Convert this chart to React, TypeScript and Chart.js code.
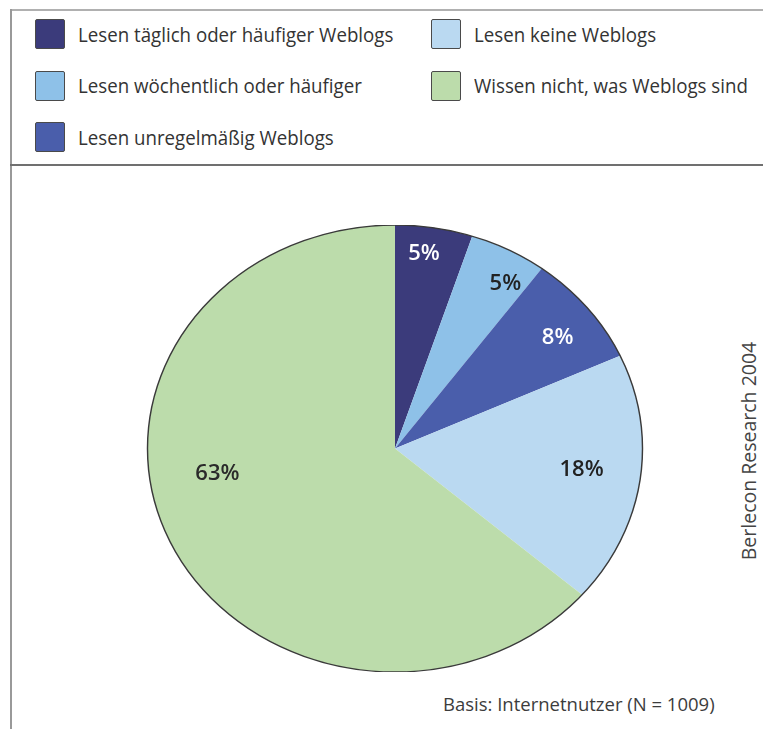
import React, { useEffect, useRef } from "react";
import { Chart, registerables } from "chart.js";

Chart.register(...registerables);

// ---- data ----
const categories = [
  "Lesen täglich oder häufiger Weblogs",
  "Lesen wöchentlich oder häufiger",
  "Lesen unregelmäßig Weblogs",
  "Lesen keine Weblogs",
  "Wissen nicht, was Weblogs sind",
];
const values = [5, 5, 8, 18, 63];
const valueLabels = ["5%", "5%", "8%", "18%", "63%"];
const sourceNote = "Berlecon Research 2004";
const baseNote = "Basis: Internetnutzer (N = 1009)";

// ---- styles ----
const colors = ["#3b3b7b", "#8ec1e8", "#4a5eab", "#bad9f1", "#bcdcab"];
const labelColors = ["#ffffff", "#222222", "#ffffff", "#222222", "#2a2a2a"];
// where inside each slice its label sits: t = fraction of slice angle, f = fraction of radius
const labelPlacement = [
  { t: 0.418, f: 0.887 },
  { t: 0.7, f: 0.868 },
  { t: 0.558, f: 0.827 },
  { t: 0.476, f: 0.759 },
  { t: 0.571, f: 0.725 },
];
const ELLIPSE_X = 1.1074;
const FONT = '"Open Sans", "Noto Sans", sans-serif';

const ellipsePlugin = {
  id: "ellipsePie",
  beforeDatasetsDraw(chart: any) {
    const { ctx, chartArea } = chart;
    const cx = (chartArea.left + chartArea.right) / 2;
    const cy = (chartArea.top + chartArea.bottom) / 2;
    ctx.save();
    ctx.translate(cx, cy);
    ctx.scale(ELLIPSE_X, 1);
    ctx.translate(-cx, -cy);
  },
  afterDatasetsDraw(chart: any) {
    const { ctx } = chart;
    const meta = chart.getDatasetMeta(0);
    const first = meta.data[0].getProps(["x", "y", "outerRadius"], true);
    ctx.beginPath();
    ctx.arc(first.x, first.y, first.outerRadius, 0, Math.PI * 2);
    ctx.lineWidth = 1.3;
    ctx.strokeStyle = "#3a3a3a";
    ctx.stroke();
    ctx.restore();

    ctx.save();
    ctx.font = `600 22px ${FONT}`;
    ctx.textAlign = "center";
    ctx.textBaseline = "middle";
    meta.data.forEach((arc: any, i: number) => {
      const p = arc.getProps(["x", "y", "startAngle", "endAngle", "outerRadius"], true);
      const a = p.startAngle + (p.endAngle - p.startAngle) * labelPlacement[i].t;
      const r = p.outerRadius * labelPlacement[i].f;
      const lx = p.x + Math.cos(a) * r * ELLIPSE_X;
      const ly = p.y + Math.sin(a) * r;
      ctx.fillStyle = labelColors[i];
      ctx.fillText(valueLabels[i], lx, ly + 1.5);
    });
    ctx.restore();
  },
};

function PieChart() {
  const ref = useRef<HTMLCanvasElement | null>(null);
  useEffect(() => {
    if (!ref.current) return;
    const chart = new Chart(ref.current, {
      type: "pie",
      data: {
        labels: categories,
        datasets: [
          {
            data: values,
            backgroundColor: colors,
            borderWidth: 0,
          },
        ],
      },
      options: {
        responsive: false,
        animation: false,
        events: [],
        layout: { padding: 0 },
        plugins: {
          legend: { display: false },
          tooltip: { enabled: false },
        },
      },
      plugins: [ellipsePlugin],
    });
    return () => chart.destroy();
  }, []);
  return (
    <canvas
      ref={ref}
      width={520}
      height={447}
      style={{ position: "absolute", left: 135, top: 225, width: 520, height: 447 }}
    />
  );
}

export default function App() {
  return (
    <div
      style={{
        position: "absolute",
        left: 0,
        top: 0,
        width: 763,
        height: 729,
        overflow: "hidden",
        background: "#ffffff",
        fontFamily: FONT,
      }}
    >
      {/* frame lines */}
      <div style={{ position: "absolute", left: 10, top: 9, width: 753, height: 2, background: "#b0b0b0" }} />
      <div style={{ position: "absolute", left: 10, top: 9, width: 2, height: 720, background: "#999999" }} />
      <div style={{ position: "absolute", left: 10, top: 164, width: 753, height: 2, background: "#707070" }} />

      {/* legend */}
      {categories.map((c, i) => {
        const col = i < 3 ? 0 : 1;
        const row = i < 3 ? i : i - 3;
        return (
          <div
            key={c}
            style={{
              position: "absolute",
              left: col ? 431 : 35,
              top: 19 + row * 51.5,
              height: 30,
              display: "flex",
              alignItems: "center",
            }}
          >
            <div
              style={{
                width: 30,
                height: 30,
                background: colors[i],
                border: "1px solid #4a4a4a",
                borderRadius: 2,
                boxSizing: "border-box",
                flex: "none",
              }}
            />
            <span
              style={{
                marginLeft: 13,
                fontSize: 20,
                color: "#333333",
                whiteSpace: "nowrap",
                display: "inline-block",
                transform: "scaleX(0.935)",
                transformOrigin: "left center",
              }}
            >
              {c}
            </span>
          </div>
        );
      })}

      <PieChart />

      {/* vertical source note */}
      <div
        style={{
          position: "absolute",
          left: 748,
          top: 451,
          transform: "translate(-50%, -50%) rotate(-90deg)",
          whiteSpace: "nowrap",
          fontSize: 19.5,
          color: "#444444",
        }}
      >
        {sourceNote}
      </div>

      {/* base note */}
      <div
        style={{
          position: "absolute",
          left: 443,
          top: 692,
          whiteSpace: "nowrap",
          fontSize: 18.5,
          lineHeight: "24px",
          color: "#3c3c3c",
        }}
      >
        {baseNote}
      </div>
    </div>
  );
}
